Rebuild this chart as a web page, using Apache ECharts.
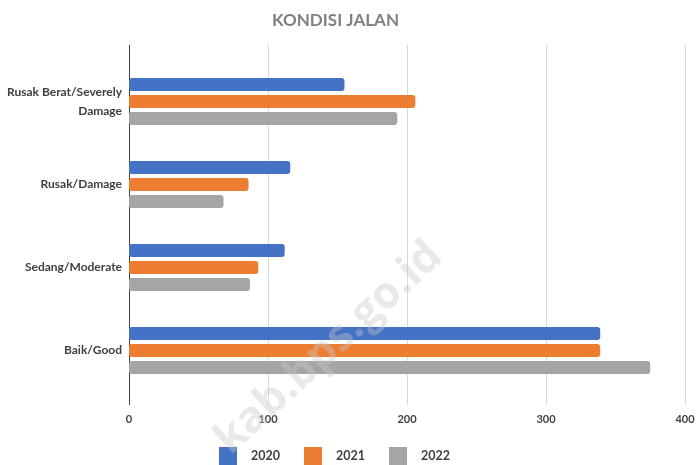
<!DOCTYPE html>
<html>
<head>
<meta charset="utf-8">
<style>
  html, body { margin: 0; padding: 0; background: #fff; }
  #chart { width: 700px; height: 465px; }
</style>
<script src="https://cdn.jsdelivr.net/npm/echarts@6/dist/echarts.min.js"></script>
</head>
<body>
<div id="chart"></div>
<script>
// kondisi jalan, top to bottom
const categories = ['Rusak Berat/Severely Damage', 'Rusak/Damage', 'Sedang/Moderate', 'Baik/Good'];
const years = ['2020', '2021', '2022'];
const values2020 = [155, 116, 112, 339];
const values2021 = [206, 86, 93, 339];
const values2022 = [193, 68, 87, 375];
const xTicks = [0, 100, 200, 300, 400];

const colors = ['#4472C4', '#ED7D31', '#A5A5A5'];
const font = 'Lato, "Open Sans", sans-serif';

const chart = echarts.init(document.getElementById('chart'));

const seriesData = [values2020, values2021, values2022];
const series = years.map(function (y, i) {
  return {
    name: y,
    type: 'bar',
    xAxisIndex: 1,
    yAxisIndex: 1,
    data: seriesData[i],
    barWidth: 13,
    barGap: '30%',
    itemStyle: { color: colors[i], borderRadius: 3 }
  };
});

chart.setOption({
  animation: false,
  color: colors,
  title: {
    text: 'KONDISI JALAN',
    left: 267,
    top: 7,
    textStyle: { fontFamily: font, fontSize: 17, fontWeight: 'bold', color: '#808080' }
  },
  legend: {
    data: years,
    left: 214,
    top: 442,
    icon: 'rect',
    itemWidth: 18,
    itemHeight: 18,
    itemGap: 24,
    textStyle: { fontFamily: font, fontSize: 12.5, fontWeight: 'bold', color: '#404040', padding: [0, 0, 0, 9] }
  },
  grid: [
    // grid for the gridlines and the value axis
    { left: 129, right: 15, top: 45, bottom: 60 },
    // grid for the bars
    { left: 129, right: 15, top: 60, bottom: 73 }
  ],
  xAxis: [
    {
      gridIndex: 0,
      type: 'value',
      min: xTicks[0],
      max: xTicks[xTicks.length - 1],
      interval: 100,
      axisLine: { show: false },
      axisTick: { show: false },
      axisLabel: { margin: 9, fontFamily: font, fontSize: 11, fontWeight: 'bold', color: '#404040' },
      splitLine: { lineStyle: { color: ['#404040', '#d9d9d9', '#d9d9d9', '#d9d9d9', '#d9d9d9'], width: 1 } }
    },
    {
      gridIndex: 1,
      type: 'value',
      min: xTicks[0],
      max: xTicks[xTicks.length - 1],
      show: false
    }
  ],
  yAxis: [
    {
      gridIndex: 0,
      type: 'value',
      show: false
    },
    {
      gridIndex: 1,
      type: 'category',
      inverse: true,
      data: categories,
      axisLine: { show: false },
      axisTick: { show: false },
      axisLabel: {
        margin: 7,
        fontFamily: font,
        fontSize: 12,
        fontWeight: 'bold',
        color: '#404040',
        lineHeight: 19,
        align: 'right',
        formatter: function (v) {
          return v.replace('Severely ', 'Severely\n');
        }
      }
    }
  ],
  graphic: [
    {
      type: 'text',
      x: 329,
      y: 348,
      rotation: Math.PI * 42.6 / 180,
      z: 100,
      silent: true,
      style: {
        text: 'kab.bps.go.id',
        font: 'bold 44px "Open Sans", sans-serif',
        fill: 'rgba(200,200,200,0.4)',
        align: 'center',
        verticalAlign: 'middle'
      }
    }
  ],
  series: series
});
</script>
</body>
</html>
